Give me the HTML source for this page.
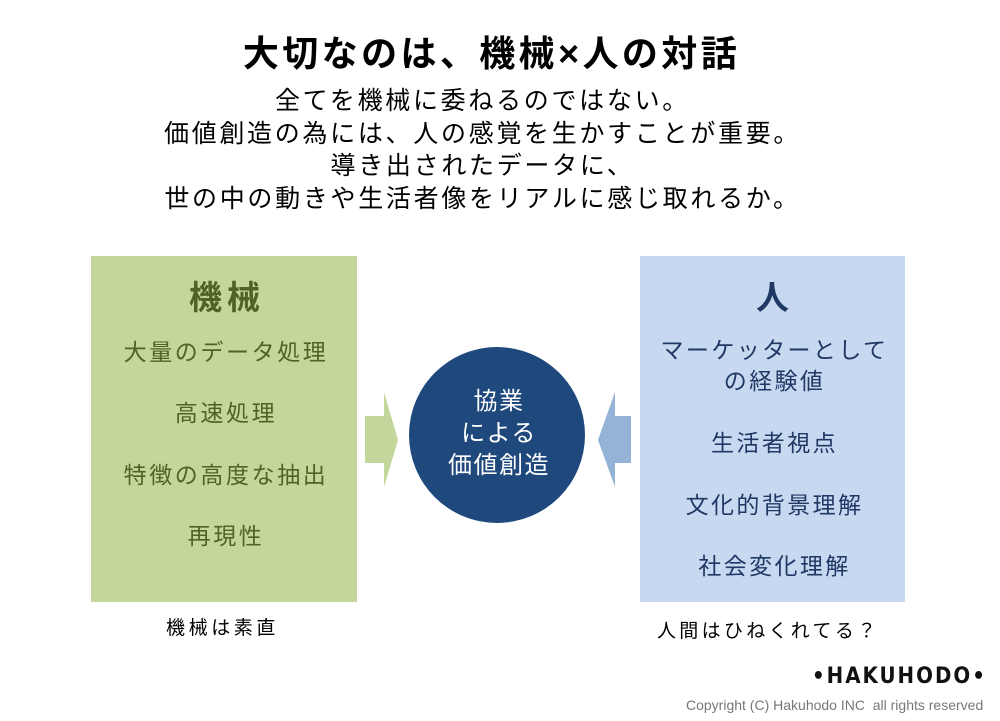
<!DOCTYPE html>
<html><head><meta charset="utf-8"><style>
body{margin:0;width:1000px;height:721px;background:#fff;position:relative;overflow:hidden;font-family:"Liberation Sans","Noto Sans CJK JP",sans-serif;}
.a{position:absolute;white-space:nowrap;}
.c{text-align:center;}
</style></head><body>
<div class="a c" style="left:0;width:983px;top:32px;font-size:36px;letter-spacing:3.4px;font-weight:bold;line-height:44px;color:#000;">大切なのは、機械×人の対話</div>
<div class="a c" style="left:0;width:965px;top:85px;font-size:25px;letter-spacing:2.7px;line-height:32.5px;color:#000;">全てを機械に委ねるのではない。<br>価値創造の為には、人の感覚を生かすことが重要。<br>導き出されたデータに、<br>世の中の動きや生活者像をリアルに感じ取れるか。</div>

<div class="a" style="left:91px;top:256px;width:266px;height:346px;background:#c3d69b;"></div>
<div class="a c" style="left:94px;width:266px;top:276px;font-size:33px;letter-spacing:5px;font-weight:bold;color:#4f6228;line-height:44px;">機械</div>
<div class="a c" style="left:93px;width:266px;top:322px;font-size:23px;letter-spacing:2.6px;color:#4f6228;line-height:61.3px;">大量のデータ処理<br>高速処理<br>特徴の高度な抽出<br>再現性</div>

<div class="a" style="left:640px;top:256px;width:265px;height:346px;background:#c6d9f1;"></div>
<div class="a c" style="left:640px;width:265px;top:276px;font-size:33px;font-weight:bold;color:#1f3864;line-height:44px;">人</div>
<div class="a c" style="left:642px;width:265px;top:335px;font-size:23px;letter-spacing:2.4px;color:#1f3864;line-height:31px;">マーケッターとして<br>の経験値</div>
<div class="a c" style="left:642px;width:265px;top:413px;font-size:23px;letter-spacing:2.4px;color:#1f3864;line-height:61.5px;">生活者視点<br>文化的背景理解<br>社会変化理解</div>

<svg class="a" style="left:0;top:0" width="1000" height="721">
<polygon points="365,416 384,416 384,392 398,440 384,487 384,463 365,463" fill="#c3d69b"/>
<polygon points="631,416 615,416 615,392 598,440 615,487 615,463 631,463" fill="#95b3d7"/>
<circle cx="497" cy="435" r="88" fill="#1f497d"/>
</svg>
<div class="a c" style="left:411px;width:176px;top:386px;font-size:24px;letter-spacing:1.5px;color:#fff;line-height:32px;">協業<br>による<br>価値創造</div>

<div class="a" style="left:166px;top:613px;font-size:19px;letter-spacing:3.6px;color:#000;">機械は素直</div>
<div class="a" style="left:657px;top:616px;font-size:19px;letter-spacing:3.3px;color:#000;">人間はひねくれてる？</div>

<div class="a" style="left:812px;top:664px;font-size:22px;font-weight:bold;letter-spacing:2px;color:#111;font-family:'DejaVu Sans Condensed','Liberation Sans',sans-serif;">•HAKUHODO•</div>
<div class="a" style="left:686px;top:697px;font-size:14px;color:#777;">Copyright (C) Hakuhodo INC&nbsp; all rights reserved</div>
</body></html>
